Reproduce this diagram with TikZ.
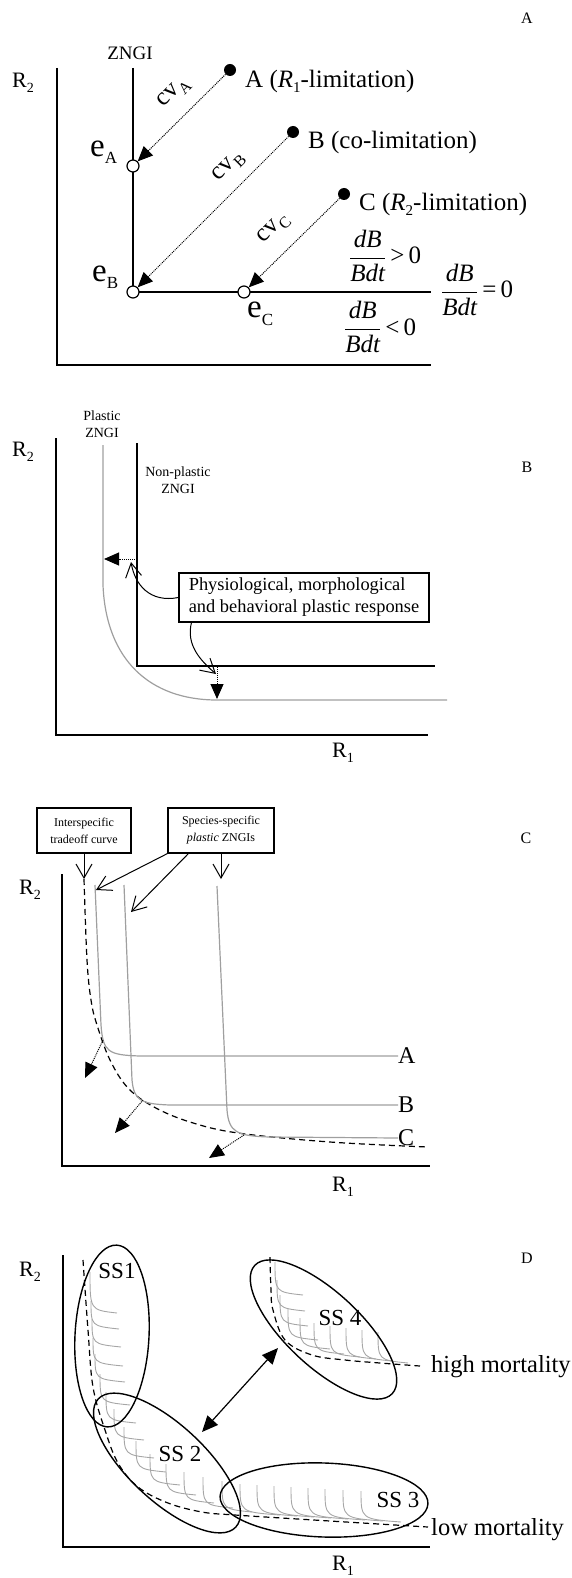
\documentclass[tikz,border=0pt]{standalone}
\usepackage{fontspec}
\setmainfont{Liberation Serif}
\usepackage{tikz}
\usetikzlibrary{arrows.meta,positioning}
\newcommand{\elab}[1]{{\fontsize{33}{36}\selectfont e}\raisebox{-7pt}{\fontsize{17}{20}\selectfont #1}}
\newcommand{\rlab}[1]{R\raisebox{-5pt}{\fontsize{14}{16}\selectfont #1}}
\newcommand{\cvlab}[1]{cv\raisebox{-6pt}{\fontsize{16}{18}\selectfont #1}}
\newcommand{\dBdt}{$\displaystyle\frac{\mbox{\itshape dB}}{\mbox{\itshape Bdt}}$}
\newcommand{\zngi}[4]{\draw[zngismall] (#1,#2-#3) .. controls (#1,#2) and (#1,#2) .. (#1+#4,#2+3);}

\begin{document}
\begin{tikzpicture}[x=1pt,y=-1pt,every node/.style={font=\fontsize{25}{30}\selectfont,inner sep=0pt}]
\tikzset{axis/.style={line width=1.5pt},zline/.style={line width=1.3pt},zngiline/.style={draw=gray!75,line width=1.2pt},zngismall/.style={draw=gray!70,line width=0.9pt},tradeoff/.style={line width=1.2pt,dash pattern=on 6pt off 4pt},dotarrow/.style={densely dotted,line width=1pt,-{Triangle[length=15pt,width=13pt]}},callout/.style={line width=1pt,-{Straight Barb[length=14pt,width=16pt]}},notebox/.style={draw,line width=1.1pt,align=center},plab/.style={font=\fontsize{16}{18}\selectfont},rlabel/.style={font=\fontsize{22}{24}\selectfont},smalltext/.style={font=\fontsize{14}{17}\selectfont,align=center},soliddot/.style={circle,fill,minimum size=12pt},opendot/.style={circle,draw,fill=white,line width=1.2pt,minimum size=12pt},sslabel/.style={font=\fontsize{23}{26}\selectfont},ring/.style={line width=1.4pt}}
\useasboundingbox (0,0) rectangle (572,1578);
% panel A
\node[plab] (labA) at (527,18) {A};
\node[rlabel] (r2A) at (23,83) {\rlab{2}};
\draw[axis] (57,68) -- (57,365) -- (431,365);
\node[font=\fontsize{19}{22}\selectfont] (zngiA) at (130,53) {ZNGI};
\draw[zline] (133,68) -- (133,292) -- (431,292);
\node[opendot] (eA) at (133,166) {};
\node[opendot] (eB) at (133,292) {};
\node[opendot] (eC) at (244,292) {};
\node[soliddot] (ptA) at (230,70) {};
\node[soliddot] (ptB) at (293,132) {};
\node[soliddot] (ptC) at (344,194) {};
\draw[dotarrow] (ptA) -- (eA);
\draw[dotarrow] (ptB) -- (eB);
\draw[dotarrow] (ptC) -- (eC);
\node[anchor=base west] (txtA) at (245,88) {A (\textit{R}\raisebox{-5pt}{\fontsize{15}{17}\selectfont 1}-limitation)};
\node[anchor=base west] (txtB) at (308,149) {B (co-limitation)};
\node[anchor=base west] (txtC) at (359,211) {C (\textit{R}\raisebox{-5pt}{\fontsize{15}{17}\selectfont 2}-limitation)};
\node[anchor=base west] (eAlab) at (90,157) {\elab{A}};
\node[anchor=base west] (eBlab) at (92,282) {\elab{B}};
\node[anchor=base west] (eClab) at (247,318) {\elab{C}};
\node[rotate=45] (cvA) at (174,93) {\cvlab{A}};
\node[rotate=45] (cvB) at (229,167) {\cvlab{B}};
\node[rotate=45] (cvC) at (274,229) {\cvlab{C}};
\node[anchor=base west] (gtz) at (349,264) {\dBdt\,>\,0};
\node[anchor=base west] (eqz) at (441,298) {\dBdt\,=\,0};
\node[anchor=base west] (ltz) at (344,335) {\dBdt\,<\,0};
% panel B
\node[plab] (labB) at (527,467) {B};
\node[rlabel] (r2B) at (23,452) {\rlab{2}};
\node[rlabel] (r1B) at (343,753) {\rlab{1}};
\draw[axis] (56,438) -- (56,735) -- (428,735);
\node[smalltext] (plasB) at (102,424) {Plastic\\ZNGI};
\node[smalltext] (nonpB) at (178,480) {Non-plastic\\ZNGI};
\draw[zline] (137,443) -- (137,666) -- (435,666);
\draw[zngiline] (103,445) -- (103,585) .. controls (106,660) and (150,700) .. (217,700) -- (447,700);
\coordinate (nfrom) at (137,559);
\coordinate (nto) at (104,559);
\coordinate (hfrom) at (217,667);
\coordinate (hto) at (217,699);
\draw[dotarrow] (nfrom) -- (nto);
\draw[dotarrow] (hfrom) -- (hto);
\node[notebox,align=left,font=\fontsize{18.4}{22}\selectfont,minimum width=250pt,minimum height=49pt] (resp) at (304,597.5) {Physiological, morphological\\and behavioral plastic response};
\coordinate (respin) at (131,562);
\coordinate (respdn) at (216,674);
\draw[callout] (resp.west) .. controls (150,603) and (135,585) .. (respin);
\draw[callout] ([xshift=13pt]resp.south west) .. controls (186,645) and (200,660) .. (respdn);
% panel C
\node[plab] (labC) at (526,838) {C};
\node[rlabel] (r2C) at (30,890) {\rlab{2}};
\node[rlabel] (r1C) at (343,1187) {\rlab{1}};
\draw[axis] (62,874) -- (62,1166) -- (430,1166);
\node[notebox,font=\fontsize{12}{17}\selectfont,minimum width=94pt,minimum height=45pt] (tradebox) at (84,830.5) {Interspecific\\tradeoff curve};
\node[notebox,font=\fontsize{12}{17}\selectfont,minimum width=106pt,minimum height=45pt] (ssbox) at (221,830.5) {Species-specific\\\textit{plastic} ZNGIs};
\coordinate (tradetop) at (84,879);
\draw[tradeoff] plot[smooth,tension=0.6] coordinates {(84,879) (87,960) (91,1000) (97,1025) (110,1060) (128,1088) (154,1107) (190,1122) (238,1133) (330,1142) (428,1147)};
\node[anchor=west,font=\fontsize{24}{28}\selectfont] (spA) at (398,1056) {A};
\node[anchor=west,font=\fontsize{24}{28}\selectfont] (spB) at (398,1105) {B};
\node[anchor=west,font=\fontsize{24}{28}\selectfont] (spC) at (398,1138) {C};
\draw[zngiline] (95,885) -- (101,1025) .. controls (103,1052) and (108,1055) .. (140,1056) -- (spA.west);
\draw[zngiline] (124,885) -- (132,1080) .. controls (134,1100) and (140,1104) .. (170,1105) -- (spB.west);
\draw[zngiline] (217,886) -- (227,1110) .. controls (229,1132) and (236,1136) .. (270,1137) -- (spC.west);
\coordinate (plasA) at (96,890);
\coordinate (plasB) at (131,912);
\coordinate (plasC) at (221,879);
\draw[callout] (tradebox) -- (tradetop);
\draw[callout] (ssbox.south west) -- (plasA);
\draw[callout] ([xshift=21pt]ssbox.south west) -- (plasB);
\draw[callout] (ssbox) -- (plasC);
\coordinate (sa1) at (103,1040);
\coordinate (sa2) at (85,1078);
\coordinate (sb1) at (143,1100);
\coordinate (sb2) at (115,1133);
\coordinate (sc1) at (244,1135);
\coordinate (sc2) at (209,1158);
\draw[dotarrow] (sa1) -- (sa2);
\draw[dotarrow] (sb1) -- (sb2);
\draw[dotarrow] (sc1) -- (sc2);
% panel D
\node[plab] (labD) at (527,1258) {D};
\node[rlabel] (r2D) at (30,1272) {\rlab{2}};
\node[rlabel] (r1D) at (343,1566) {\rlab{1}};
\draw[axis] (63,1255) -- (63,1547) -- (430,1547);
\foreach \x/\y/\v/\h in {90/1310/38/27,91/1326/25/28,92/1344/25/29,93/1363/25/30,95/1379/25/30,
  100/1402/28/30,106/1420/28/30,114/1437/28/30,124/1455/28/30,136/1469/28/30,150/1482/28/30,166/1492/28/30,184/1500/28/30,203/1505/28/30,222/1509/28/30,
  240/1512/28/40,257/1513/28/40,274/1514/28/40,291/1515/28/40,308/1516/28/40,325/1517/28/40,343/1518/28/40,361/1519/28/40,
  275/1292/30/28,277/1308/28/28,280/1323/28/28,288/1337/28/30,300/1346/28/30,314/1351/28/30,330/1354/28/30,346/1356/28/30,362/1358/28/30,378/1360/28/30}
  {\zngi{\x}{\y}{\v}{\h}}
\draw[tradeoff] plot[smooth,tension=0.6] coordinates {(83,1260) (88,1330) (93,1387) (105,1430) (118,1463) (138,1487) (168,1503) (202,1512) (235,1515) (330,1521) (428,1527)};
\draw[tradeoff] plot[smooth,tension=0.6] coordinates {(270,1257) (271,1290) (273,1310) (285,1340) (312,1355) (345,1360) (380,1363) (420,1366)};
\node[anchor=west,font=\fontsize{24.5}{28}\selectfont] (lowm) at (431,1530) {low mortality};
\node[anchor=west,font=\fontsize{24.5}{28}\selectfont] (highm) at (431,1367) {high mortality};
\draw[ring,rotate around={-3:(112,1336)}] (112,1336) ellipse[x radius=37pt,y radius=91pt];
\draw[ring,rotate around={-43:(167,1463)}] (167,1463) ellipse[x radius=94pt,y radius=38pt];
\draw[ring,rotate around={-2:(324,1500)}] (324,1500) ellipse[x radius=104pt,y radius=37pt];
\draw[ring,rotate around={-43:(323.5,1329.5)}] (323.5,1329.5) ellipse[x radius=94pt,y radius=37pt];
\node[sslabel] (ss1) at (117,1271) {SS1};
\node[sslabel] (ss2) at (180,1454) {SS 2};
\node[sslabel] (ss3) at (398,1500) {SS 3};
\node[sslabel] (ss4) at (340,1318) {SS 4};
\coordinate (dblA) at (202,1432);
\coordinate (dblB) at (278,1348);
\draw[line width=1.2pt,{Triangle[length=16pt,width=14pt]}-{Triangle[length=16pt,width=14pt]}] (dblA) -- (dblB);
\end{tikzpicture}
\end{document}
